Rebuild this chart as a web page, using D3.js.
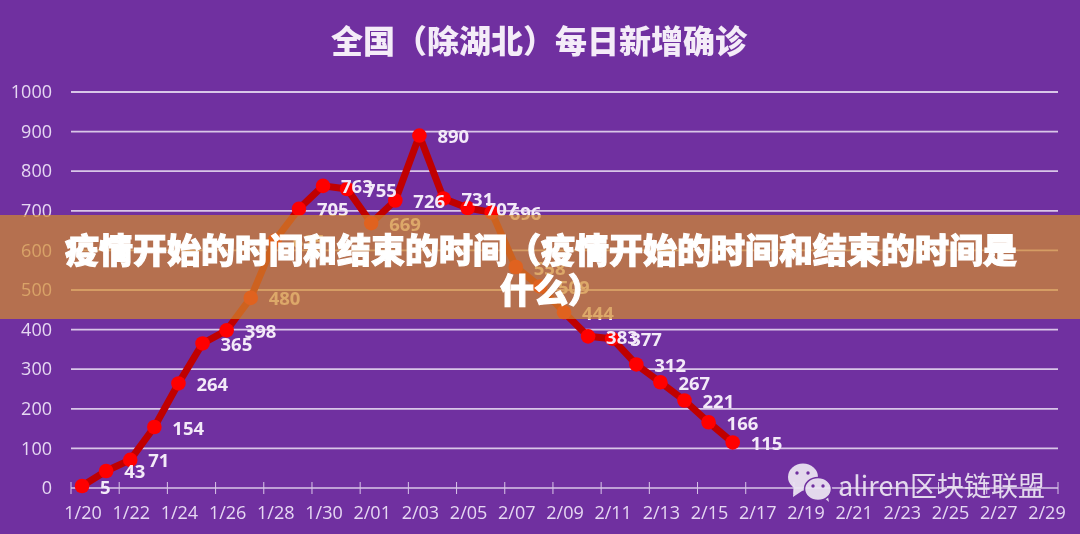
<!DOCTYPE html>
<html><head><meta charset="utf-8">
<script src="https://cdn.jsdelivr.net/npm/d3@7/dist/d3.min.js"></script>
<style>
html,body{margin:0;padding:0;background:#7030A0;overflow:hidden}
svg{display:block}
</style></head><body>
<svg id="c" width="1080" height="534"></svg>
<script>
const chartTitle = "全国（除湖北）每日新增确诊";
const overlayLines = ["疫情开始的时间和结束的时间（疫情开始的时间和结束的时间是","什么）"];
const watermark = "aliren区块链联盟";
const days = ["1/20","1/21","1/22","1/23","1/24","1/25","1/26","1/27","1/28","1/29","1/30","1/31","2/01","2/02","2/03","2/04","2/05","2/06","2/07","2/08","2/09","2/10","2/11","2/12","2/13","2/14","2/15","2/16","2/17","2/18","2/19","2/20","2/21","2/22","2/23","2/24","2/25","2/26","2/27","2/28","2/29"];
const tickDays = days.filter((d,i)=>i%2===0);
const cases = [5,43,71,154,264,365,398,480,625,705,763,755,669,726,890,731,707,696,558,509,444,383,377,312,267,221,166,115];
const yTicks = [0,100,200,300,400,500,600,700,800,900,1000];

const svg = d3.select("#c");
const defs = svg.append("defs");
defs.append("filter").attr("id","soft").append("feGaussianBlur").attr("stdDeviation",0.45);
const root = svg.append("g").attr("filter","url(#soft)");
const font = "'Noto Sans CJK SC','Noto Sans',sans-serif";
const x = d3.scaleBand().domain(days).range([71,1059]);
const y = d3.scaleLinear().domain([0,1000]).range([488,92]);
const tickCol = "#E6D8F2";

root.append("text").attr("x",539).attr("y",53).attr("text-anchor","middle")
  .attr("font-family",font).attr("font-weight",900).attr("font-size",32).attr("fill","#F4ECF8").text(chartTitle);

root.append("g").selectAll("line").data(yTicks.slice(1)).join("line")
  .attr("x1",71).attr("x2",1058).attr("y1",d=>y(d)).attr("y2",d=>y(d))
  .attr("stroke","#D9C6E8").attr("stroke-width",1.8);

const gy = root.append("g").attr("transform","translate(71,0)")
  .call(d3.axisLeft(y).tickValues(yTicks).tickFormat(d3.format("d")).tickSize(0).tickPadding(19));
gy.select(".domain").remove();
gy.selectAll("text").attr("font-family","'Open Sans',sans-serif").attr("font-size",18).attr("fill",tickCol);

const gx = root.append("g").attr("transform","translate(0,488)");
gx.append("line").attr("x1",71).attr("x2",1058).attr("y1",0).attr("y2",0).attr("stroke","#D9C6E8").attr("stroke-width",1.4);
const tickPos = tickDays.map(d=>x(d));
gx.selectAll("line.t").data(tickPos.concat([x.range()[1]-1])).join("line").attr("class","t")
  .attr("x1",d=>d).attr("x2",d=>d).attr("y1",-6).attr("y2",6).attr("stroke","#D9C6E8").attr("stroke-width",1);
gx.selectAll("text").data(tickDays).join("text")
  .attr("x",d=>x(d)+x.bandwidth()/2).attr("y",31).attr("text-anchor","middle")
  .attr("font-family","'Open Sans',sans-serif").attr("font-size",18).attr("fill",tickCol).text(d=>d);

const shown = cases.map((v,i)=>({v,day:days[i]}));
const cx = d=>x(d.day)+x.bandwidth()/2-1;
root.append("path").datum(shown)
  .attr("d",d3.line().x(cx).y(d=>y(d.v)))
  .attr("fill","none").attr("stroke","#C00000").attr("stroke-width",7).attr("stroke-linejoin","round");
root.append("g").selectAll("circle").data(shown).join("circle")
  .attr("cx",cx).attr("cy",d=>y(d.v)).attr("r",7.3).attr("fill","#FF0000");
root.append("g").selectAll("text").data(shown).join("text")
  .attr("x",d=>cx(d)+18).attr("y",d=>y(d.v)+7.5)
  .attr("text-anchor","start").attr("font-family","'Open Sans',sans-serif").attr("font-weight",700)
  .attr("font-size",18.5).attr("fill","#F3EAF8").text(d=>d.v);

// watermark
const wm = root.append("g").attr("fill","#ECE6F3").attr("opacity",0.93);
wm.append("ellipse").attr("cx",803).attr("cy",477).attr("rx",15).attr("ry",13.5);
wm.append("path").attr("d",d3.line()([[794,486],[793,497],[805,489]]));
wm.append("path").attr("d",d3.line()([[823,497],[829,502],[827,492]]));
wm.append("ellipse").attr("cx",818).attr("cy",489).attr("rx",13.5).attr("ry",11.5).attr("stroke","#7030A0").attr("stroke-width",1.5);
[[797,473],[808,473],[813,486],[823,486]].forEach(p=>wm.append("circle").attr("cx",p[0]).attr("cy",p[1]).attr("r",1.7).attr("fill","#7030A0"));
wm.append("text").attr("x",838).attr("y",496).attr("font-family",font).attr("font-size",27).attr("fill","#ECE6F3").text(watermark);

// overlay band
svg.append("rect").attr("x",0).attr("y",215).attr("width",1080).attr("height",104).attr("fill","#D38B2C").attr("opacity",0.7);
svg.append("g").selectAll("text").data(overlayLines).join("text")
  .attr("x",(d,i)=>i===0?541:551).attr("y",(d,i)=>263+i*40).attr("text-anchor","middle")
  .attr("font-family","'Noto Sans CJK SC',sans-serif").attr("font-weight",900).attr("font-size",34)
  .attr("fill","#FFFFFF").attr("stroke","#FFFFFF").attr("stroke-width",1.1).text(d=>d);
</script></body></html>
